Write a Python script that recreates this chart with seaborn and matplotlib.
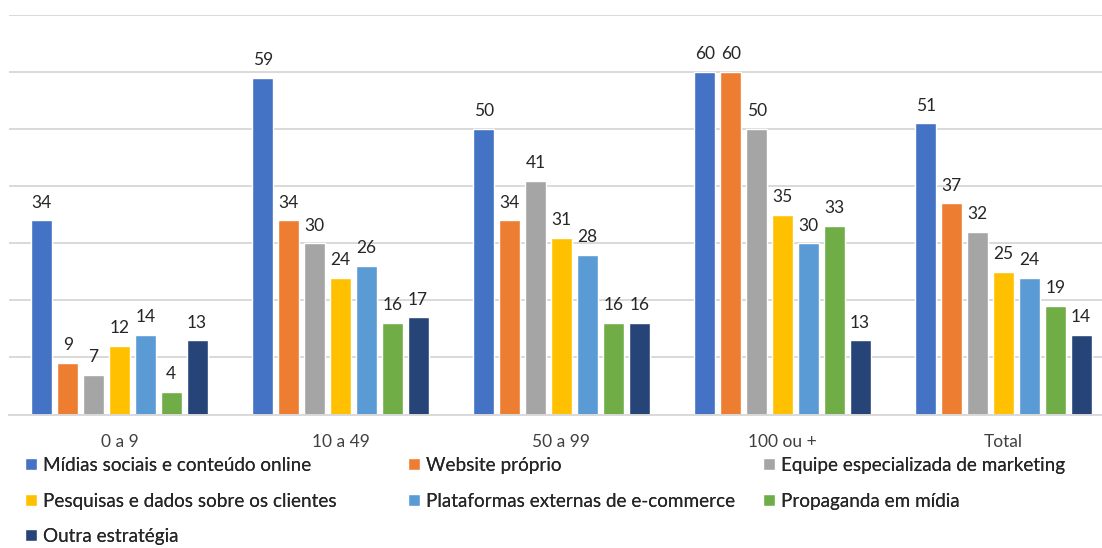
import matplotlib
matplotlib.use("Agg")
import matplotlib.pyplot as plt
import seaborn as sns
import pandas as pd

# Company size groups and strategy series
groups = ["0 a 9", "10 a 49", "50 a 99", "100 ou +", "Total"]
strategies = [
    "Mídias sociais e conteúdo online",
    "Website próprio",
    "Equipe especializada de marketing",
    "Pesquisas e dados sobre os clientes",
    "Plataformas externas de e-commerce",
    "Propaganda em mídia",
    "Outra estratégia",
]
midias = [34, 59, 50, 60, 51]
website = [9, 34, 34, 60, 37]
equipe = [7, 30, 41, 50, 32]
pesquisas = [12, 24, 31, 35, 25]
plataformas = [14, 26, 28, 30, 24]
propaganda = [4, 16, 16, 33, 19]
outra = [13, 17, 16, 13, 14]

colors = ["#4472C4", "#ED7D31", "#A5A5A5", "#FFC000", "#5B9BD5", "#70AD47", "#264478"]

series = [midias, website, equipe, pesquisas, plataformas, propaganda, outra]
rows = []
for name, vals in zip(strategies, series):
    for g, v in zip(groups, vals):
        rows.append({"grupo": g, "estrategia": name, "valor": v})
df = pd.DataFrame(rows)

sns.set_theme(style="white")
plt.rcParams["font.family"] = ["Lato", "DejaVu Sans"]

W, H = 1102, 548
fig = plt.figure(figsize=(W / 100, H / 100), dpi=100)
ax = fig.add_axes([9 / W, 1 - 414.5 / H, 1105 / W, (414.5 - 15) / H])

sns.barplot(data=df, x="grupo", y="valor", hue="estrategia", order=groups,
            hue_order=strategies, palette=colors, width=0.82, gap=0.2,
            saturation=1, ax=ax, legend=True)

for cont in ax.containers:
    ax.bar_label(cont, fmt="%d", padding=7, fontsize=12.5, color="#262626")

ax.set_ylim(0, 70)
ax.set_yticks(range(0, 71, 10))
ax.yaxis.grid(True, color="#D9D9D9", linewidth=1.4)
ax.set_axisbelow(True)
ax.tick_params(axis="y", left=False, labelleft=False)
ax.tick_params(axis="x", bottom=False, labelsize=12.5, colors="#404040", pad=8)
ax.set_xlabel("")
ax.set_ylabel("")
for s in ["left", "right", "top"]:
    ax.spines[s].set_visible(False)
ax.spines["bottom"].set_color("#D9D9D9")
ax.spines["bottom"].set_linewidth(1.4)
ax.set_xlim(-0.5, 4.5)

handles, labels = ax.get_legend_handles_labels()
ax.get_legend().remove()

# Legend laid out row by row in three fixed columns
col_x = [25 / W, 408 / W, 763 / W]
cols = [[0, 3, 6], [1, 4], [2, 5]]
for cx, idxs in zip(col_x, cols):
    leg = fig.legend([handles[i] for i in idxs], [labels[i] for i in idxs],
                     loc="upper left", bbox_to_anchor=(cx, 1 - 457 / H),
                     frameon=False, fontsize=13.6, handlelength=0.62,
                     handleheight=0.62, handletextpad=0.35, labelspacing=0.98,
                     borderaxespad=0, borderpad=0)
    for t in leg.get_texts():
        t.set_color("#262626")
    fig.add_artist(leg)

fig.savefig("out.png", dpi=100)
